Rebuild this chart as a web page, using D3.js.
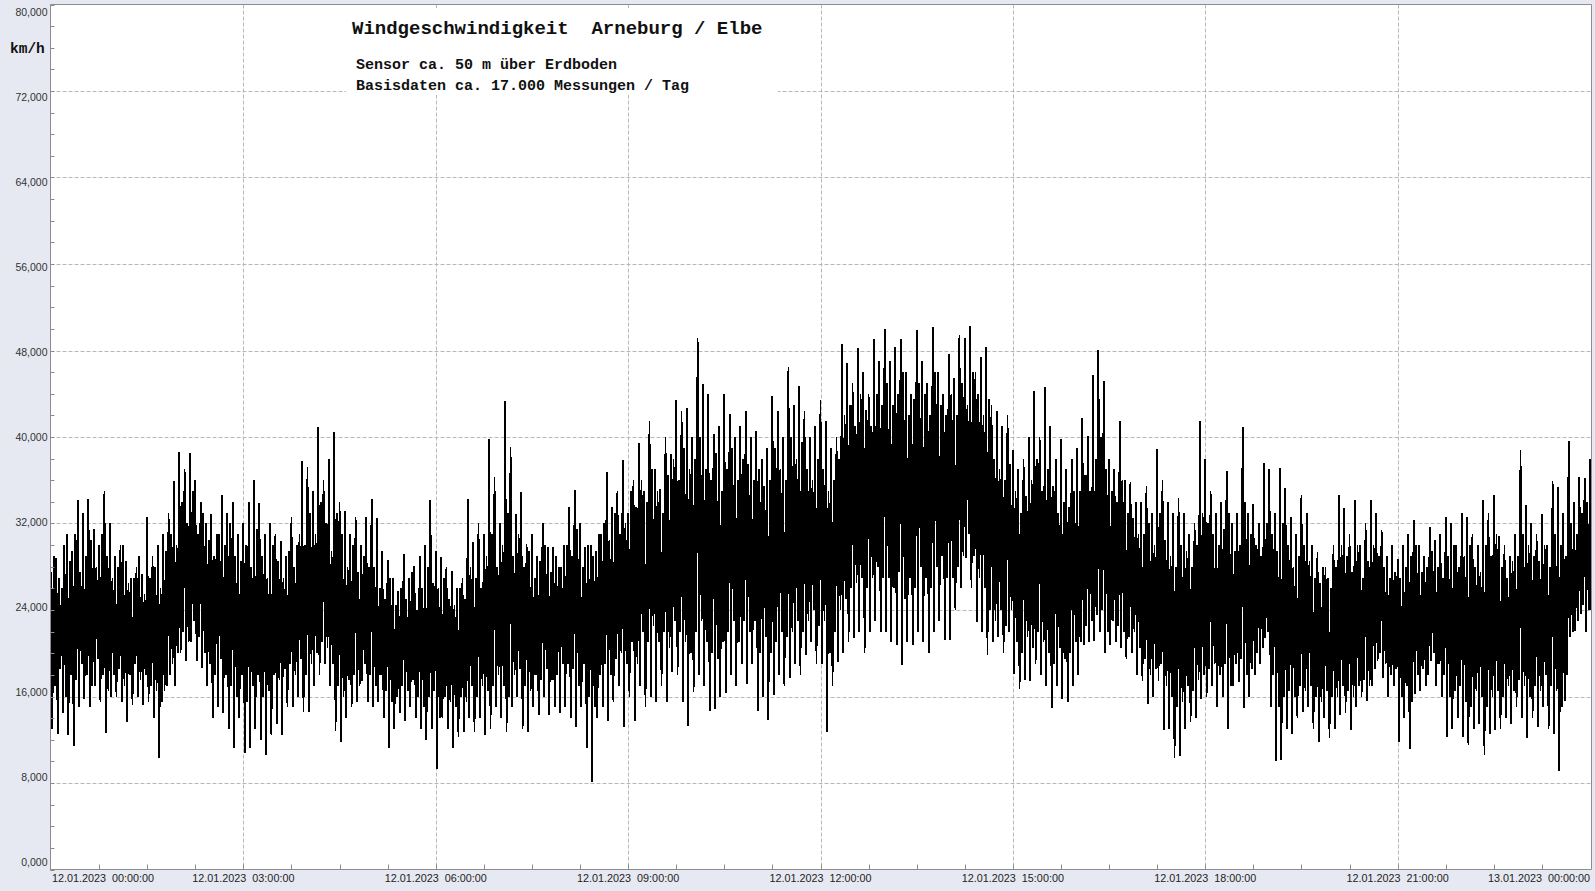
<!DOCTYPE html>
<html><head><meta charset="utf-8">
<script src="https://cdn.jsdelivr.net/npm/d3@7/dist/d3.min.js"></script>
<style>html,body{margin:0;padding:0;background:#e6e9f1;overflow:hidden}</style>
</head><body><svg id="c" width="1595" height="891"></svg>
<script>
// 5-minute bins (minute = index*5): extreme upper / lower values of the wind speed trace, km/h
const hiValues = [
 27.5,28.8,26,31,29.5,34.2,33,34.3,31.5,30,35,32,
 29,30,28.5,27,28,27.3,32.6,29,30,31,33,35.9,
 38.6,37,38.5,36,34,32,32.9,31,34.6,33,34,31,
 32,34,36,33.9,31,32,31,30.4,29,32.6,30,37.8,
 37.2,35,40.9,36,38,40.5,34,33.2,31,32.6,30,32.6,
 34.3,32.5,29.5,28.6,27,25.8,29.2,27,28.1,29,30,34.2,
 29.5,28.9,28,27.6,26,27,34.3,30.3,32,31,39.8,36.3,
 32,43.3,39.1,32.9,34.9,30.1,31,29,32,29.8,29.8,28,
 30,33.5,35.1,32,29.8,30,29.5,31,36.8,33.5,35,37.9,
 33,36,39.4,35,41.5,37,35.2,40,38.4,43.4,42.4,42.7,
 40,49.2,44.9,44,40.3,41,44,42.1,40,41,42.4,40,
 40.6,38,39,43.8,42.4,40,46.5,43,44.7,42.4,40,41,
 43.4,41.5,39,40,48.6,46.8,45,48.2,46,44,49.1,47,
 50,47,48.3,49.1,46,44,49.9,47,45,50.2,46,44,
 47.7,45.5,49.4,49.2,50.3,46,47.4,48.3,43,42.4,41,42,
 38.8,37,38,40,44.3,40,44.6,41,38,39.8,37,38,
 39,41.8,40.1,45.7,48,45.2,38,37,41.5,36,35.8,34,
 34,35.5,33,38.9,36,34,33,34.4,33,31,32,41.5,
 38,35,33,34,36.9,32,33,40.9,33,33.8,32,37.6,
 37,33,37.1,35.3,32.6,31,34.6,33,30,29.4,28,27,
 30,34.6,33.4,31,34.2,30,32,34.2,33,31.4,29,30,
 28.7,30,31,32.3,30,29,31.7,30.5,31,32.6,32,30,
 33,32.6,31,30,34.2,33,34.6,30.8,30,29,31,38.8,
 33.7,32,31,32.9,30,35.9,35.4,33,39.6,34,36.3,36.2,
 38];
const loValues = [
 13,12.5,14.5,12.4,11.4,15,15.8,15,17,15.5,12.6,16,
 16,15.5,13.6,15.2,16,15.2,15.5,14,10.3,16.5,18,17,
 20,19.3,21,19.3,18.6,17,14,15,14.5,13,11.2,14,
 10.8,11.2,13,12,10.6,12.4,13.5,12.4,15,15,16,14.6,
 14.6,17,18,19,17,12.8,11.8,14,15,15.5,17.4,15.5,
 15,15.5,14,11.2,13,14.5,13.7,15,14,13,12,13,
 9.3,14,13,11.2,12.3,12.7,14,12.7,14,12.4,13,15,
 14,12.7,15,16,13,12.7,15,14.3,16,14.3,15,14.5,
 15,14,13.2,15,11.2,8.1,14,15,13.7,15.5,17,13.2,
 16,13.7,17,15,16,15.5,17,15.5,18.3,18,15.5,13.3,
 16.4,18,17,14.7,14.8,16,16.3,18,17,19,17.2,19,
 14.7,16,13.8,16.1,18,17,17.7,19,18,19.8,21,19,
 19,12.7,17,19.2,20,21,21.4,22,20,22,23,22,
 22,21,20.8,18.9,21,20.8,22,21,20,22,23,21.2,
 21.2,24,26,28.8,26,22.9,22,19.8,21,21.5,20,22,
 18.1,16.7,17.5,17.4,19,18,17,14.9,17,15.8,15.5,17,
 18,20.8,21,21.1,22,20,20.8,21,20.5,19.5,20,18,
 17.4,15.3,16,17.4,12.9,13,10.3,10.5,13,13.6,14,15.8,
 16,17,15,16,13,17,17.3,14.9,16,18,19,21.4,
 15,10,10.1,13,12.5,14,14.6,15,13,11.8,14,12.2,
 13,14.3,14.5,12.9,15,16,15.6,17,19.3,17.7,16,17,
 11.8,14,11.1,16.2,16.5,17,19.3,17,16,12.3,13,14,
 12.3,11.5,13,13.5,10.6,12.5,12.9,13,14,13.5,15,14,
 12.2,14,13.2,15,13,12.5,9.1,15.6,21.5,22.1,23.6,22,
 24];
// intermediate peaks / dips inside each 5-minute bin
const hiMid = [
 29,27,30,28.5,31,27.5,29,30.5,28,31,29,27,
 28,30,26.5,27,29,25.5,27,28,26,29.5,31,30,
 34,32,35,31,33,30.5,29,31,30,32,29,28.5,
 30,28,31.5,29,27,30,28.5,27,29.5,28,31,30,
 33,31,34,32,29.5,33,31,28,30,27.5,29,28,
 28,26,25,27,24.5,26,25,27.5,24,26,28,26.5,
 26,27,25,24.5,26,25,28,27,26,29,31,28,
 30,33,29,31,28,29.5,27,28.5,30,27.5,29,28,
 30,29,31.5,28,30,29,31,32,30.5,33,31,32,
 35,33.5,36,34,37,35,33,36.5,38,36,39,37,
 38,40,37,36,38.5,35,37,39,36,38,37.5,36,
 37,35.5,36,39,37,36,40,38,39.5,37,36,38,
 37,35,36,38,42,43,41,44,42.5,41,44,43,
 45,43,44,46,42,43.5,45,44,42,46,43,42,
 44,42,45,43,46,44,42,43.5,38,37,36,37.5,
 35,33,34.5,36,38,35,37,35.5,33,34,33.5,35,
 35,36.5,35,38,40,37,35,34,36,33,32.5,31,
 31,32,30,33,30.5,29,28,30,29.5,28,30,33,
 32,31,30,31.5,33,29.5,30,34,31,30,29,32,
 31,29.5,32,30,28,29,30,28.5,27,26.5,28,26,
 28,30,29,27.5,30,27,28.5,30,29,28,27,27.5,
 27,28,29,30,27.5,28,29.5,28,27,29,30,28,
 29,30,28,27.5,30,29,31,28,27,28.5,29,31,
 30,29,28.5,30,28,31,30,29,32,31,33,34,
 34];
const loMid = [
 17,18.5,16,18,17.5,19,18,17,19.5,18,16.5,18,
 18.5,17,18,19,17.5,18,17,16.5,15.5,17,19,20,
 22,21,23,21.5,20,19,18,19.5,18,17,16,18,
 15.5,17,18,16,16.5,18,17.5,18.5,19,18,19.5,18,
 19,20,21,20.5,19,17,16,17.5,18,17,19,18,
 17,18,16.5,15.5,16,17,16.5,17.5,16,15,16,16.5,
 14,16,15.5,15,16,15.5,17,16,17,16.5,17,18,
 17,16,18,18.5,17,16.5,18,17.5,18.5,17.5,18,19,
 19,18.5,17,19,16,15,18,19,18,19.5,20,19,
 21,19,22,21,22.5,21,22,20.5,23,22,21,20,
 22,23,21,20,19.5,21,22,23,21,23,22,23,
 20,21.5,20,21,22,21.5,22,23,22,23,24,22.5,
 23,20,22,24,25,26,26.5,27,26,27,28,27,
 27,26,27.5,25,27,26,28,27,26,28,29,27,
 27,28,29,31,29,27,26,24,23,24,22.5,24,
 21,20,21.5,20.5,22,21,20,19,20.5,19.5,20,21,
 21,22.5,23,23.5,24,22,23,22.5,22,21.5,22,20.5,
 19.5,18,18.5,19,17,16,15,15.5,17,16.5,17.5,18,
 18.5,19,18,19,17,19,19.5,18,18.5,20,20.5,22,
 18,15,16,16.5,16,17,16.5,17,16,15.5,16.5,16,
 16,17,16.5,16,17,17.5,17,18.5,20,19,18,18.5,
 16,17,15.5,18,18.5,18,20,19,18,16,16.5,17,
 15.5,15,16.5,16,15,16,16.5,16,17,16.5,17.5,17,
 16,17,16.5,18,17,16.5,15,18,22,23,24.5,24,
 25];

const yTickValues = [0,8,16,24,32,40,48,56,64,72,80];
const yTickLabels = ["0,000","8,000","16,000","24,000","32,000","40,000","48,000","56,000","64,000","72,000","80,000"];
const xTickMinutes = [0,180,360,540,720,900,1080,1260,1440];
const xTickLabels = ["12.01.2023  00:00:00","12.01.2023  03:00:00","12.01.2023  06:00:00","12.01.2023  09:00:00","12.01.2023  12:00:00","12.01.2023  15:00:00","12.01.2023  18:00:00","12.01.2023  21:00:00","13.01.2023  00:00:00"];
const titleText = "Windgeschwindigkeit  Arneburg / Elbe";
const subTexts = ["Sensor ca. 50 m über Erdboden","Basisdaten ca. 17.000 Messungen / Tag"];
const unitText = "km/h";

const svg = d3.select("#c");
const L=50.5, R=1591.5, T=4.5, B=869.5;
const x = d3.scaleLinear().domain([0,1440]).range([51,1590]);
const y = d3.scaleLinear().domain([0,80]).range([B,T]);
const yLab = d3.scaleLinear().domain([0,80]).range([862.7,12.3]);

svg.append("rect").attr("width",1595).attr("height",891).attr("fill","#e6e9f1");
svg.append("rect").attr("x",L).attr("y",T).attr("width",R-L).attr("height",B-T).attr("fill","#fff");

const grid = svg.append("g").attr("stroke","#b8b8b8").attr("stroke-dasharray","4,2").attr("stroke-width",1);
yTickValues.filter(v=>v>0&&v<80).forEach(v=>{
  grid.append("line").attr("x1",L).attr("x2",R).attr("y1",Math.round(y(v))+0.5).attr("y2",Math.round(y(v))+0.5);
});
xTickMinutes.filter(m=>m>0&&m<1440).forEach(m=>{
  grid.append("line").attr("y1",T).attr("y2",B).attr("x1",Math.round(x(m))+0.5).attr("x2",Math.round(x(m))+0.5);
});

// title box
svg.append("rect").attr("x",346).attr("y",8).attr("width",432).attr("height",87).attr("fill","#fff");
svg.append("text").attr("x",352).attr("y",33.5).style("white-space","pre")
  .attr("font-family","'Liberation Mono','Courier New',monospace").attr("font-weight","bold").attr("font-size",19).attr("fill","#111").text(titleText);
subTexts.forEach((s,i)=>{
  svg.append("text").attr("x",356).attr("y",69+i*20.5)
   .attr("font-family","'Liberation Mono','Courier New',monospace").attr("font-weight","bold").attr("font-size",15).attr("fill","#111").text(s);
});

// data
svg.append("clipPath").attr("id","cp").append("rect").attr("x",L).attr("y",T).attr("width",R-L).attr("height",B-T);
const g = svg.append("g").attr("clip-path","url(#cp)");
const pts = [];
hiValues.forEach((h,i)=>{
  pts.push([i*5,h]); pts.push([i*5+1.25,loValues[i]]);
  pts.push([i*5+2.5,hiMid[i]]); pts.push([i*5+3.75,loMid[i]]);
});
g.append("path").datum(pts).attr("fill","none").attr("stroke","#000").attr("stroke-width",1.8)
  .attr("shape-rendering","crispEdges")
  .attr("d", d3.line().x(d=>x(d[0])).y(d=>y(d[1])));

// frame
const fr = svg.append("g").attr("stroke","#8c8c8c").attr("stroke-width",1).attr("fill","none");
fr.append("line").attr("x1",L).attr("x2",R).attr("y1",T).attr("y2",T);
fr.append("line").attr("x1",R).attr("x2",R).attr("y1",T).attr("y2",B);
fr.append("line").attr("x1",L).attr("x2",L).attr("y1",T).attr("y2",B+1);
fr.append("line").attr("x1",L).attr("x2",R).attr("y1",B).attr("y2",B);
d3.range(0,81,2).forEach(v=>{
  fr.append("line").attr("x1",L).attr("x2",L+4).attr("y1",Math.round(y(v))+0.5).attr("y2",Math.round(y(v))+0.5);
});
d3.range(45,1440,45).forEach(m=>{
  fr.append("line").attr("x1",Math.round(x(m))+0.5).attr("x2",Math.round(x(m))+0.5).attr("y1",B).attr("y2",B-5);
});

// labels
yTickValues.forEach((v,i)=>{
  svg.append("text").attr("x",47.5).attr("y",yLab(v)).attr("dy","0.35em").attr("text-anchor","end")
   .attr("font-family","'Liberation Sans',Arial,sans-serif").attr("font-size",10.5).attr("fill","#333").text(yTickLabels[i]);
});
xTickMinutes.forEach((m,i)=>{
  const first=i===0, last=i===xTickMinutes.length-1;
  svg.append("text").style("white-space","pre")
   .attr("x", first?52:(last?1590:x(m))).attr("y",882)
   .attr("text-anchor", first?"start":(last?"end":"middle"))
   .attr("font-family","'Liberation Sans',Arial,sans-serif").attr("font-size",10.8).attr("fill","#222").text(xTickLabels[i]);
});
svg.append("text").attr("x",10).attr("y",52.5)
  .attr("font-family","'Liberation Mono','Courier New',monospace").attr("font-weight","bold").attr("font-size",14.5).attr("fill","#111").text(unitText);
</script></body></html>
